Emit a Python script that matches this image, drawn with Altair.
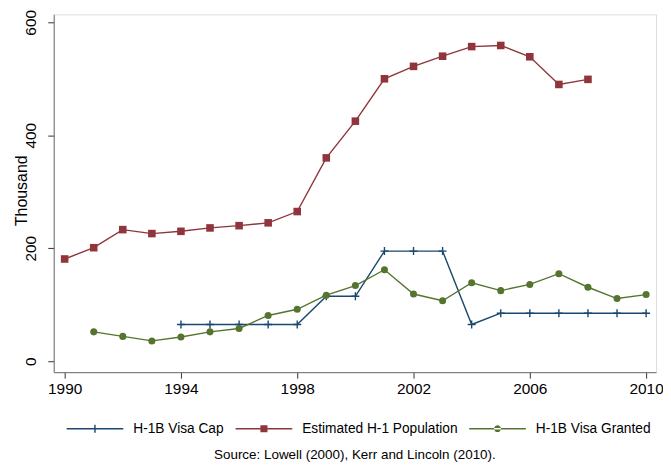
import altair as alt
import pandas as pd

# ---- data ----
cap_years = [1994, 1995, 1996, 1997, 1998, 1999, 2000, 2001, 2002, 2003,
             2004, 2005, 2006, 2007, 2008, 2009, 2010]
cap_values = [65, 65, 65, 65, 65, 115, 115, 195, 195, 195,
              65, 85, 85, 85, 85, 85, 85]

pop_years = list(range(1990, 2009))
pop_values = [181, 201, 233, 226, 230, 236, 240, 245, 265, 360,
              425, 500, 522, 540, 557, 559, 539, 490, 499]

granted_years = list(range(1991, 2011))
granted_values = [52, 44, 36, 43, 52, 58, 81, 92, 117, 134,
                  162, 119, 107, 139, 125, 136, 155, 131, 111, 118]

series_names = ["H-1B Visa Cap", "Estimated H-1 Population", "H-1B Visa Granted"]
series_colors = ["#1a476f", "#90353b", "#55752f"]
x_ticks = [1990, 1994, 1998, 2002, 2006, 2010]
y_ticks = [0, 200, 400, 600]
source_note = "Source: Lowell (2000), Kerr and Lincoln (2010)."

rows = []
for name, yrs, vals in zip(series_names,
                           [cap_years, pop_years, granted_years],
                           [cap_values, pop_values, granted_values]):
    for yr, v in zip(yrs, vals):
        rows.append({"year": yr, "value": v, "series": name, "leg": name})
df = pd.DataFrame(rows)

FONT = "Liberation Sans"
W, H = 606, 360

x_enc = alt.X("year:Q",
              scale=alt.Scale(domain=[1989.624, 2010.342], nice=False, zero=False),
              axis=alt.Axis(values=x_ticks, format="d", title=None, grid=False,
                            tickSize=6, labelFontSize=15.5, labelPadding=3,
                            domainColor="#6e6e6e", tickColor="#333333",
                            labelColor="#000000", labelFont=FONT))
y_enc = alt.Y("value:Q",
              scale=alt.Scale(domain=[-19.35, 614.08], nice=False, zero=False),
              axis=alt.Axis(values=y_ticks, title="Thousand", grid=False,
                            tickSize=6, labelFontSize=15.5, labelAngle=-90,
                            labelAlign="center", labelBaseline="bottom",
                            labelPadding=9, titleFontSize=16,
                            titleFontWeight="normal", titleX=-27, titleY=177,
                            titleAngle=270, titleAlign="center",
                            titleBaseline="alphabetic",
                            domainColor="#6e6e6e", tickColor="#333333",
                            labelColor="#000000", titleColor="#000000",
                            labelFont=FONT, titleFont=FONT))

color_scale = alt.Scale(domain=series_names, range=series_colors)

lines = alt.Chart(df).mark_line(strokeWidth=1.4).encode(
    x=x_enc, y=y_enc,
    color=alt.Color("series:N", scale=color_scale, legend=None),
    detail="series:N",
)

cap_pts = alt.Chart(df).transform_filter(
    alt.datum.series == series_names[0]
).mark_point(shape="M-1,0H1M0,-1V1", filled=False, size=64,
             strokeWidth=1.4, color=series_colors[0], opacity=1).encode(
    x="year:Q", y="value:Q")

sq_pts = alt.Chart(df).transform_filter(
    alt.datum.series == series_names[1]
).mark_point(shape="square", filled=True, size=58,
             color=series_colors[1], opacity=1).encode(
    x="year:Q", y="value:Q")

ci_pts = alt.Chart(df).transform_filter(
    alt.datum.series == series_names[2]
).mark_point(shape="circle", filled=True, size=50,
             color=series_colors[2], opacity=1).encode(
    x="year:Q", y="value:Q")

# legend symbols: a thin bar with the series marker in its middle
leg_shapes = [
    "M-1,-0.028H1V0.028H-1Z M-0.025,-0.14H0.025V0.14H-0.025Z",
    "M-1,-0.028H1V0.028H-1Z M-0.125,-0.125H0.125V0.125H-0.125Z",
    "M-1,-0.028H1V0.028H-1Z M-0.12,0A0.12,0.12 0 1,0 0.12,0A0.12,0.12 0 1,0 -0.12,0Z",
]
legend = alt.Legend(title=None, orient="none", direction="horizontal",
                    legendX=13, legendY=388, symbolSize=3249,
                    symbolOpacity=1, symbolStrokeWidth=0, labelOffset=10,
                    columnPadding=11, labelFontSize=13.8, labelFont=FONT,
                    labelColor="#000000", labelLimit=400)
leg_layer = alt.Chart(df).mark_point(filled=True, opacity=0, size=1).encode(
    x="year:Q", y="value:Q",
    color=alt.Color("leg:N", scale=alt.Scale(domain=series_names, range=series_colors),
                    sort=series_names, legend=legend),
    shape=alt.Shape("leg:N", scale=alt.Scale(domain=series_names, range=leg_shapes),
                    sort=series_names, legend=legend),
)

note = alt.Chart(pd.DataFrame({"note": [source_note]})).mark_text(
    font=FONT, fontSize=13.5, color="#000000", align="center",
    baseline="alphabetic"
).encode(text="note:N", x=alt.value(W / 2), y=alt.value(447))

chart = alt.layer(lines, cap_pts, sq_pts, ci_pts, leg_layer, note).resolve_scale(
    color="independent", shape="independent"
).properties(
    width=W, height=H,
    padding={"left": 46, "top": 5, "right": 7, "bottom": 91},
    autosize=alt.AutoSizeParams(type="none"),
).configure_view(stroke=None).configure(background="white")

chart.save("out.html", embed_options={"renderer": "svg", "actions": False})
